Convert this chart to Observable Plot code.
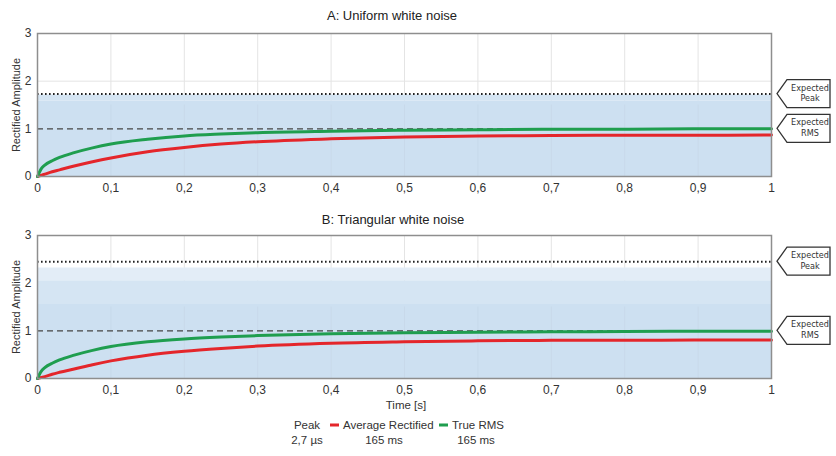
<!DOCTYPE html>
<html>
<head>
<meta charset="utf-8">
<script src="https://cdn.jsdelivr.net/npm/d3@7"></script>
<script src="https://cdn.jsdelivr.net/npm/@observablehq/plot@0.6"></script>
<style>
  body { margin: 0; background: #fff; font-family: "Liberation Sans", Arial, sans-serif; color: #333; }
  #wrap { position: relative; width: 836px; height: 456px; overflow: hidden; }
  .title { position: absolute; font-size: 13px; color: #222; transform: translate(-50%, -50%); white-space: nowrap; }
  .lg { position: absolute; font-size: 11.5px; color: #333; transform: translate(-50%, -50%); white-space: nowrap; }
  .sw { position: absolute; width: 9px; height: 3px; transform: translateY(-50%); }
</style>
</head>
<body>
<div id="wrap"></div>
<script>
// ---------- data ----------
const titles = ["A: Uniform white noise", "B: Triangular white noise"];
const xTicks = [0, 0.1, 0.2, 0.3, 0.4, 0.5, 0.6, 0.7, 0.8, 0.9, 1];
const xTickLabels = ["0", "0,1", "0,2", "0,3", "0,4", "0,5", "0,6", "0,7", "0,8", "0,9", "1"];
const yTicks = [0, 1, 2, 3];
const yLabel = "Rectified Amplitude";
const xLabel = "Time [s]";

// curve sample times
const t = [0, 0.005, 0.01, 0.02, 0.03, 0.05, 0.075, 0.1, 0.15, 0.2, 0.25, 0.3, 0.4, 0.5, 0.6, 0.7, 0.8, 0.9, 1.0];
const rmsA = [0, 0.16, 0.24, 0.33, 0.40, 0.50, 0.60, 0.68, 0.78, 0.85, 0.89, 0.92, 0.95, 0.97, 0.98, 0.99, 0.99, 1.0, 1.0];
const avgA = [0, 0.025, 0.05, 0.10, 0.14, 0.22, 0.31, 0.39, 0.52, 0.61, 0.68, 0.73, 0.79, 0.83, 0.85, 0.86, 0.865, 0.865, 0.87];
const rmsB = [0, 0.15, 0.23, 0.32, 0.39, 0.49, 0.59, 0.67, 0.77, 0.83, 0.87, 0.90, 0.94, 0.96, 0.97, 0.98, 0.985, 0.99, 0.99];
const avgB = [0, 0.02, 0.04, 0.09, 0.13, 0.20, 0.29, 0.37, 0.49, 0.57, 0.63, 0.68, 0.74, 0.77, 0.79, 0.80, 0.80, 0.81, 0.81];

// expected levels
const expectedPeak = [1.73, 2.45];
const expectedRms = [1, 1];

// noise envelope at these times
const noiseT = [0, 0.1, 0.2, 0.3, 0.4, 0.5, 0.6, 0.7, 0.8, 0.9, 1];
const noiseA_dense = [1.58, 1.58, 1.58, 1.58, 1.58, 1.58, 1.58, 1.58, 1.58, 1.58, 1.58];
const noiseA_top   = [1.71, 1.71, 1.71, 1.71, 1.71, 1.71, 1.71, 1.71, 1.71, 1.71, 1.71];
const noiseB_dense = [1.55, 1.55, 1.55, 1.55, 1.55, 1.55, 1.55, 1.55, 1.55, 1.55, 1.55];
const noiseB_mid   = [2.05, 2.05, 2.05, 2.05, 2.05, 2.05, 2.05, 2.05, 2.05, 2.05, 2.05];
const noiseB_top   = [2.32, 2.32, 2.32, 2.32, 2.32, 2.32, 2.32, 2.32, 2.32, 2.32, 2.32];

const legendItems = [
  {name: "Peak", sub: "2,7 µs", color: null},
  {name: "Average Rectified", sub: "165 ms", color: "#e4262b"},
  {name: "True RMS", sub: "165 ms", color: "#1f9e4f"}
];
const calloutLabels = [["Expected", "Peak"], ["Expected", "RMS"]];

// ---------- styles ----------
const RED = "#e4262b", GREEN = "#1f9e4f";
const BLUE1 = "#cde0f1", BLUE2 = "#d5e5f3", BLUE3 = "#e3edf7";
const FONT = "'Liberation Sans', Arial, sans-serif";

const wrap = document.getElementById("wrap");

function panel(k, top, marginTop, rms, avg, bands) {
  const bandMarks = bands.map(([lo, hi, fill]) =>
    Plot.areaY(noiseT.map((x, i) => ({x, lo: lo ? lo[i] : 0, hi: hi[i]})), {x: "x", y1: "lo", y2: "hi", fill})
  );
  const series = (ys) => t.map((x, i) => ({x, y: ys[i]}));
  const plot = Plot.plot({
    width: 836,
    height: marginTop + 143 + 25,
    marginLeft: 37,
    marginRight: 65,
    marginTop,
    marginBottom: 25,
    style: {fontFamily: FONT, fontSize: "12px", color: "#333", background: "transparent", overflow: "visible"},
    x: {domain: [0, 1]},
    y: {domain: [0, 3]},
    marks: [
      Plot.ruleX(xTicks, {stroke: "#e4e4e4", strokeWidth: 1}),
      Plot.ruleY([2], {stroke: "#e4e4e4", strokeWidth: 1}),
      ...bandMarks,
      Plot.ruleX(xTicks.slice(1, -1), {stroke: "#c8d9ea", strokeWidth: 1, y1: 0, y2: 1.5}),
      Plot.ruleY([expectedRms[k]], {stroke: "#444", strokeWidth: 1.2, strokeDasharray: "6,4"}),
      Plot.ruleY([expectedPeak[k]], {stroke: "#222", strokeWidth: 2, strokeDasharray: "1.6,2.4"}),
      Plot.line(series(avg), {x: "x", y: "y", stroke: RED, strokeWidth: 3, curve: "monotone-x"}),
      Plot.line(series(rms), {x: "x", y: "y", stroke: GREEN, strokeWidth: 3, curve: "monotone-x"}),
      Plot.frame({stroke: "#8e8e8e", strokeWidth: 1.5}),
      Plot.axisX(xTicks, {tickSize: 0, tickPadding: 7, tickFormat: (d) => xTickLabels[xTicks.indexOf(d)], label: null, fill: "#333"}),
      Plot.axisY(yTicks, {tickSize: 0, tickPadding: 6, label: null, fill: "#333"}),
      Plot.text([yLabel], {frameAnchor: "left", textAnchor: "middle", rotate: -90, dx: -21, fontSize: 11, fill: "#333"})
    ]
  });
  plot.style.position = "absolute";
  plot.style.left = "0px";
  plot.style.top = top + "px";
  wrap.appendChild(plot);

  // callouts, positioned with the plot's own y scale
  const sy = plot.scale("y");
  const svg = d3.select(plot);
  const x0 = 836 - 65 + 6;
  [expectedPeak[k], expectedRms[k]].forEach((v, j) => {
    const y = sy.apply(v);
    const g = svg.append("g");
    g.append("path")
      .attr("d", `M${x0},${y} L${x0 + 10},${y - 14} L${x0 + 53},${y - 14} L${x0 + 53},${y + 14} L${x0 + 10},${y + 14} Z`)
      .attr("fill", "#fff").attr("stroke", "#333").attr("stroke-width", 1.3);
    calloutLabels[j].forEach((s, r) => {
      g.append("text")
        .attr("x", x0 + 33).attr("y", y - 3 + r * 10.5)
        .attr("text-anchor", "middle")
        .attr("font-family", "'Liberation Sans Narrow', 'DejaVu Sans Condensed', Arial, sans-serif")
        .attr("font-size", 9).attr("fill", "#333")
        .text(s);
    });
  });
}

panel(0, 25, 8, rmsA, avgA, [[null, noiseA_dense, BLUE1], [noiseA_dense, noiseA_top, BLUE2]]);
panel(1, 226, 9, rmsB, avgB, [[null, noiseB_dense, BLUE1], [noiseB_dense, noiseB_mid, BLUE2], [noiseB_mid, noiseB_top, BLUE3]]);

// titles
[[392, 15], [393, 219]].forEach(([x, y], i) => {
  const d = document.createElement("div");
  d.className = "title"; d.textContent = titles[i];
  d.style.left = x + "px"; d.style.top = y + "px";
  wrap.appendChild(d);
});
// x label
const xl = document.createElement("div");
xl.className = "lg"; xl.textContent = xLabel;
xl.style.left = "406px"; xl.style.top = "405px";
wrap.appendChild(xl);

// legend
const legendPos = [{cx: 307, sw: null, sub: 307}, {cx: 385, sw: 330, sub: 384}, {cx: 476, sw: 439, sub: 476}];
legendItems.forEach((it, i) => {
  const p = legendPos[i];
  const n = document.createElement("div");
  n.className = "lg"; n.textContent = it.name;
  n.style.top = "425px";
  if (it.color) {
    const s = document.createElement("div");
    s.className = "sw"; s.style.background = it.color;
    s.style.left = p.sw + "px"; s.style.top = "425px";
    wrap.appendChild(s);
    n.style.transform = "translate(0, -50%)";
    n.style.left = (p.sw + 13) + "px";
  } else {
    n.style.left = p.cx + "px";
  }
  wrap.appendChild(n);
  const sb = document.createElement("div");
  sb.className = "lg"; sb.textContent = it.sub;
  sb.style.left = p.sub + "px"; sb.style.top = "440px";
  wrap.appendChild(sb);
});
</script>
</body>
</html>
